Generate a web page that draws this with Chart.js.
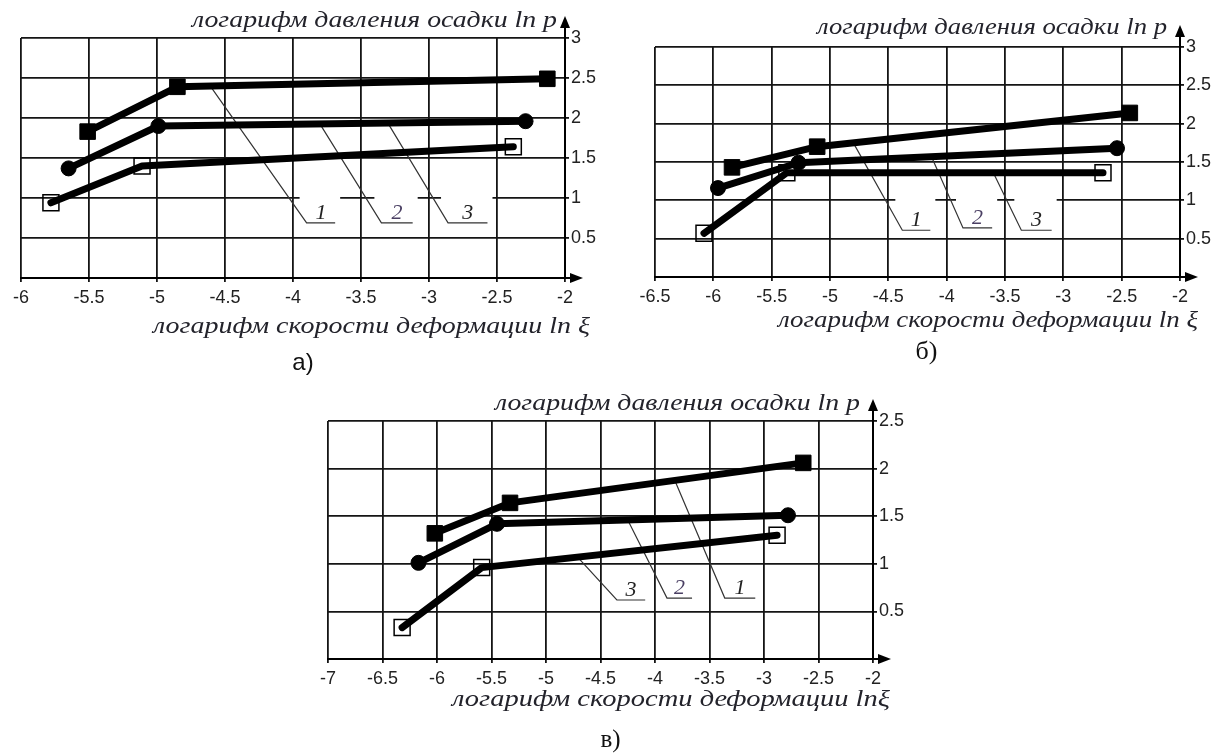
<!DOCTYPE html>
<html>
<head>
<meta charset="utf-8">
<script src="https://cdn.jsdelivr.net/npm/chart.js@4.4.0/dist/chart.umd.min.js"></script>
<style>
body { margin:0; background:#fff; width:1224px; height:753px; overflow:hidden; position:relative }
canvas { position:absolute }
</style>
</head>
<body>
<canvas id="chA" width="610" height="380" style="left:0;top:0"></canvas>
<canvas id="chB" width="614" height="380" style="left:610px;top:0"></canvas>
<canvas id="chC" width="620" height="368" style="left:300px;top:385px"></canvas>
<script>
//---------------- а)
const a_xRange = [-6, -2]
const a_yRange = [0, 3]
const a_x1 = [-5.51, -4.85, -2.13]   // filled squares
const a_y1 = [1.83, 2.39, 2.49]
const a_x2 = [-5.65, -4.99, -2.29]   // circles
const a_y2 = [1.37, 1.9, 1.96]
const a_x3 = [-5.78, -5.11, -2.38]   // open squares
const a_y3 = [0.94, 1.4, 1.64]
// label, start x,y (on curve), bend x,y, end x
const a_leaders = [['1', -4.6, 2.38, -3.9, 0.69, -3.69], ['2', -3.8, 1.92, -3.35, 0.69, -3.12], ['3', -3.3, 1.93, -2.86, 0.69, -2.57]]

//---------------- б)
const b_xRange = [-6.5, -2]
const b_yRange = [0, 3]
const b_x1 = [-5.84, -5.11, -2.43]
const b_y1 = [1.43, 1.70, 2.14]
const b_x2 = [-5.96, -5.27, -2.54]
const b_y2 = [1.16, 1.49, 1.68]
const b_x3 = [-6.08, -5.37, -2.66]
const b_y3 = [0.57, 1.36, 1.36]
const b_leaders = [['1', -4.8, 1.75, -4.38, 0.61, -4.14], ['2', -4.13, 1.57, -3.86, 0.64, -3.61], ['3', -3.6, 1.36, -3.36, 0.61, -3.10]]

//---------------- в)
const c_xRange = [-7, -2]
const c_yRange = [0, 2.5]
const c_x1 = [-6.02, -5.33, -2.64]
const c_y1 = [1.32, 1.64, 2.06]
const c_x2 = [-6.17, -5.45, -2.78]
const c_y2 = [1.01, 1.42, 1.51]
const c_x3 = [-6.32, -5.59, -2.88]
const c_y3 = [0.33, 0.96, 1.30]
const c_leaders = [['3', -4.71, 1.07, -4.35, 0.62, -4.09], ['2', -4.25, 1.46, -3.89, 0.64, -3.66], ['1', -3.82, 1.88, -3.36, 0.64, -3.08]]

const yTitle = 'логарифм давления осадки ln p'
const xTitleAB = 'логарифм скорости деформации ln ξ'
const xTitleC = 'логарифм скорости деформации lnξ'

function pts(xs, ys){ return xs.map((v, i) => ({x: v, y: ys[i]})) }

// text stretched to a given width, right end at xr
function stretchText(ctx, txt, xr, yb, w){
  ctx.font = 'italic 24px "Liberation Serif", "DejaVu Serif", serif'
  const m = ctx.measureText(txt).width
  ctx.save()
  ctx.translate(xr - w, yb)
  ctx.scale(w / m, 1)
  ctx.textAlign = 'left'
  ctx.textBaseline = 'alphabetic'
  ctx.fillText(txt, 0, 0)
  ctx.restore()
}

function makeDecor(cfg){
  return {
    id: 'decor',
    beforeDatasetsDraw(chart){
      const {ctx, scales: {x, y}} = chart
      ctx.save()
      cfg.leaders.forEach(l => {      // white label boxes
        const kx = x.getPixelForValue(l[3]), ky = y.getPixelForValue(l[4]), ex = x.getPixelForValue(l[5])
        ctx.fillStyle = '#fff'
        ctx.fillRect(kx - 7, ky - cfg.boxH, ex - kx + 12, cfg.boxH - 1)
      })
      ctx.strokeStyle = '#333'
      ctx.lineWidth = 1.2
      cfg.leaders.forEach(l => {
        const ax = x.getPixelForValue(l[1]), ay = y.getPixelForValue(l[2])
        const kx = x.getPixelForValue(l[3]), ky = y.getPixelForValue(l[4]), ex = x.getPixelForValue(l[5])
        ctx.beginPath()
        ctx.moveTo(ax, ay); ctx.lineTo(kx, ky); ctx.lineTo(ex, ky)
        ctx.stroke()
        ctx.font = 'italic 22px "Liberation Serif", serif'
        ctx.textAlign = 'center'
        ctx.textBaseline = 'alphabetic'
        ctx.fillStyle = l[0] === '2' ? '#4a3f63' : '#222'
        ctx.fillText(l[0], (kx + ex) / 2, ky - 4)
      })
      ctx.restore()
    },
    afterDraw(chart){
      const {ctx, chartArea: ca} = chart
      ctx.save()
      ctx.fillStyle = '#000'
      ctx.strokeStyle = '#000'
      ctx.lineWidth = 2
      // arrow up
      ctx.beginPath(); ctx.moveTo(ca.right, ca.top); ctx.lineTo(ca.right, ca.top - 10); ctx.stroke()
      ctx.beginPath(); ctx.moveTo(ca.right - 5, ca.top - 10); ctx.lineTo(ca.right + 5, ca.top - 10); ctx.lineTo(ca.right, ca.top - 22); ctx.closePath(); ctx.fill()
      // arrow right
      ctx.beginPath(); ctx.moveTo(ca.right, ca.bottom); ctx.lineTo(ca.right + 5, ca.bottom); ctx.stroke()
      ctx.beginPath(); ctx.moveTo(ca.right + 5, ca.bottom - 5); ctx.lineTo(ca.right + 5, ca.bottom + 5); ctx.lineTo(ca.right + 18, ca.bottom); ctx.closePath(); ctx.fill()
      // titles
      ctx.fillStyle = '#23232b'
      stretchText(ctx, cfg.yTitle, ca.right + cfg.yT[0], ca.top + cfg.yT[2], cfg.yT[1])
      stretchText(ctx, cfg.xTitle, ca.right + cfg.xT[0], ca.bottom + cfg.xT[2], cfg.xT[1])
      // caption
      ctx.font = cfg.cap[3]
      ctx.fillStyle = '#111'
      ctx.textAlign = 'center'
      ctx.textBaseline = 'middle'
      ctx.fillText(cfg.cap[0], (ca.left + ca.right) / 2 + cfg.cap[1], ca.bottom + cfg.cap[2])
      ctx.restore()
    }
  }
}

function lineSet(data, style){
  const s = {
    data: data, showLine: true,
    borderColor: '#000', borderWidth: 7,
    borderCapStyle: 'round', borderJoinStyle: 'round',
    pointBorderColor: '#000'
  }
  if (style === 'sq') { s.pointStyle = 'rect'; s.pointRadius = 11; s.pointBackgroundColor = '#000'; s.pointBorderWidth = 1 }
  if (style === 'circ') { s.pointStyle = 'circle'; s.pointRadius = 7.5; s.pointBackgroundColor = '#000'; s.pointBorderWidth = 1 }
  if (style === 'open') { s.pointStyle = 'rect'; s.pointRadius = 11.3; s.pointBackgroundColor = 'rgba(0,0,0,0)'; s.pointBorderWidth = 1.5 }
  return s
}

function makeChart(id, cfg){
  const ctx = document.getElementById(id).getContext('2d')
  const tickFont = {family: 'Liberation Sans', size: 18}
  const grid = {color: '#151515', lineWidth: 1.8, tickLength: 4}
  return new Chart(ctx, {
    type: 'scatter',
    data: {
      datasets: [lineSet(cfg.s1, 'sq'), lineSet(cfg.s2, 'circ'), lineSet(cfg.s3, 'open')]
    },
    options: {
      responsive: false,
      animation: false,
      layout: {padding: {left: cfg.area[0], top: cfg.area[1], right: 0, bottom: 0}},
      plugins: {legend: {display: false}, tooltip: {enabled: false}},
      scales: {
        x: {
          type: 'linear', min: cfg.xr[0], max: cfg.xr[1],
          ticks: {stepSize: 0.5, autoSkip: false, maxRotation: 0, padding: 5, color: '#222', font: tickFont,
                  callback: v => String(v)},
          grid: grid,
          border: {color: '#000', width: 2},
          afterFit: s => { s.height = cfg.H - cfg.area[3] }
        },
        y: {
          type: 'linear', position: 'right', min: cfg.yr[0], max: cfg.yr[1],
          ticks: {stepSize: 0.5, padding: 2, color: '#222', font: tickFont,
                  callback: v => v === 0 ? '' : String(v)},
          grid: grid,
          border: {color: '#000', width: 2},
          afterFit: s => { s.width = cfg.W - cfg.area[2] }
        }
      }
    },
    plugins: [makeDecor(cfg)]
  })
}

const chartA = makeChart('chA', {
  W: 610, H: 380, area: [21, 38, 565, 278], xr: a_xRange, yr: a_yRange,
  s1: pts(a_x1, a_y1), s2: pts(a_x2, a_y2), s3: pts(a_x3, a_y3), leaders: a_leaders, boxH: 34,
  yTitle: yTitle, xTitle: xTitleAB, yT: [-8, 365, -11], xT: [25, 437, 55],
  cap: ['а)', 10, 85, '24px "Liberation Sans"']
})
const chartB = makeChart('chB', {
  W: 614, H: 380, area: [45, 47, 570, 277], xr: b_xRange, yr: b_yRange,
  s1: pts(b_x1, b_y1), s2: pts(b_x2, b_y2), s3: pts(b_x3, b_y3), leaders: b_leaders, boxH: 37,
  yTitle: yTitle, xTitle: xTitleAB, yT: [-13, 350, -13], xT: [18, 420, 50],
  cap: ['б)', 9, 75, '26px "Liberation Serif"']
})
const chartC = makeChart('chC', {
  W: 620, H: 368, area: [28, 36, 573, 274], xr: c_xRange, yr: c_yRange,
  s1: pts(c_x1, c_y1), s2: pts(c_x2, c_y2), s3: pts(c_x3, c_y3), leaders: c_leaders, boxH: 26,
  yTitle: yTitle, xTitle: xTitleC, yT: [-13, 365, -11], xT: [17, 438, 47],
  cap: ['в)', 10, 81, '25px "Liberation Serif"']
})
</script>
</body>
</html>
